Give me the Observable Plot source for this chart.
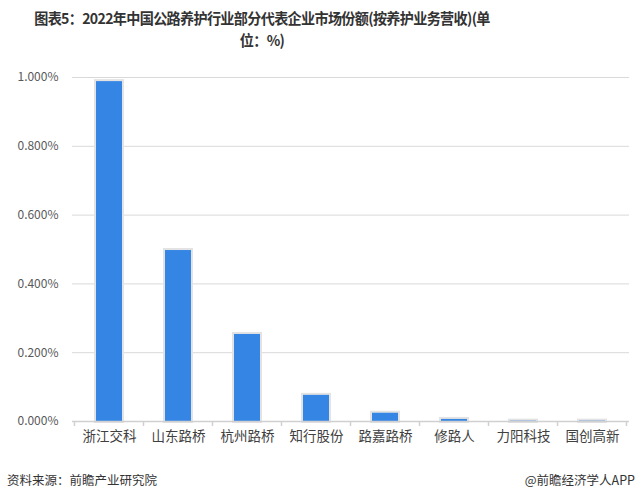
<!DOCTYPE html>
<html>
<head>
<meta charset="utf-8">
<script src="https://cdn.jsdelivr.net/npm/d3@7"></script>
<script src="https://cdn.jsdelivr.net/npm/@observablehq/plot@0.6"></script>
<style>
  html, body { margin: 0; padding: 0; background: #fff; }
  body { width: 637px; height: 504px; position: relative; overflow: hidden;
         font-family: "Noto Sans CJK SC", "Noto Sans", sans-serif; }
  #title { position: absolute; top: 7px; left: 0; width: 524px; text-align: center; white-space: nowrap;
           font-size: 15px; font-weight: bold; line-height: 22px; color: #333; letter-spacing: -0.7px;
           transform: scaleX(0.94); transform-origin: 262px 0; }
  #chart { position: absolute; top: 60px; left: 0; }
  #src { position: absolute; top: 470px; left: 7px; font-size: 12.5px; color: #333; }
  #brand { position: absolute; top: 470px; right: 2px; font-size: 12.5px; color: #333; }
</style>
</head>
<body>
<div id="title">图表5：2022年中国公路养护行业部分代表企业市场份额(按养护业务营收)(单<br>位：%)</div>
<div id="chart"></div>
<div id="src">资料来源：前瞻产业研究院</div>
<div id="brand">@前瞻经济学人APP</div>
<script>
const companies = ["浙江交科", "山东路桥", "杭州路桥", "知行股份", "路嘉路桥", "修路人", "力阳科技", "国创高新"];
const shares = [0.988, 0.497, 0.253, 0.076, 0.024, 0.006, 0.001, 0.001];
const yTicks = [0, 0.2, 0.4, 0.6, 0.8, 1.0];

const data = companies.map((c, i) => ({company: c, share: shares[i]}));

const plot = Plot.plot({
  width: 637,
  height: 391,
  marginTop: 17,
  marginBottom: 30,
  marginLeft: 72,
  marginRight: 8,
  style: {fontFamily: "'Noto Sans CJK SC', 'Noto Sans', sans-serif", fontSize: "12px", color: "#595959", background: "transparent"},
  x: {domain: companies, paddingInner: 0.62, paddingOuter: 0.31, align: 0.5, label: null},
  y: {domain: [0, 1.0], label: null},
  marks: [
    Plot.gridY(yTicks, {stroke: "#d9d9d9", strokeOpacity: 1, strokeWidth: 1}),
    Plot.axisY(yTicks, {tickSize: 0, tickPadding: 14, tickFormat: d => d3.format(".3f")(d) + "%", fontSize: 12, fill: "#595959"}),
    Plot.axisX({tickSize: 0, tickPadding: 10, fontSize: 13.5, fill: "#404040"}),
    Plot.barY(data, {x: "company", y: "share", fill: "#e3e3e3", stroke: "#e3e3e3", strokeWidth: 4}),
    Plot.barY(data, {x: "company", y: "share", fill: "#3585e5"}),
    Plot.ruleY([0], {stroke: "#d0d0d0", strokeWidth: 1.5})
  ]
});

// category boundary ticks below the axis, positioned via the plot's own x scale
const xs = plot.scale("x");
const ys = plot.scale("y");
const step = xs.step;
const y0 = ys.apply(0);
const svg = d3.select(plot);
const edges = companies.map(c => xs.apply(c) - (step - xs.bandwidth) / 2);
edges.push(edges[edges.length - 1] + step);
svg.append("g").selectAll("line").data(edges).join("line")
  .attr("x1", d => d).attr("x2", d => d)
  .attr("y1", y0).attr("y2", y0 + 5)
  .attr("stroke", "#d0d0d0").attr("stroke-width", 1.5);

document.getElementById("chart").appendChild(plot);
</script>
</body>
</html>
